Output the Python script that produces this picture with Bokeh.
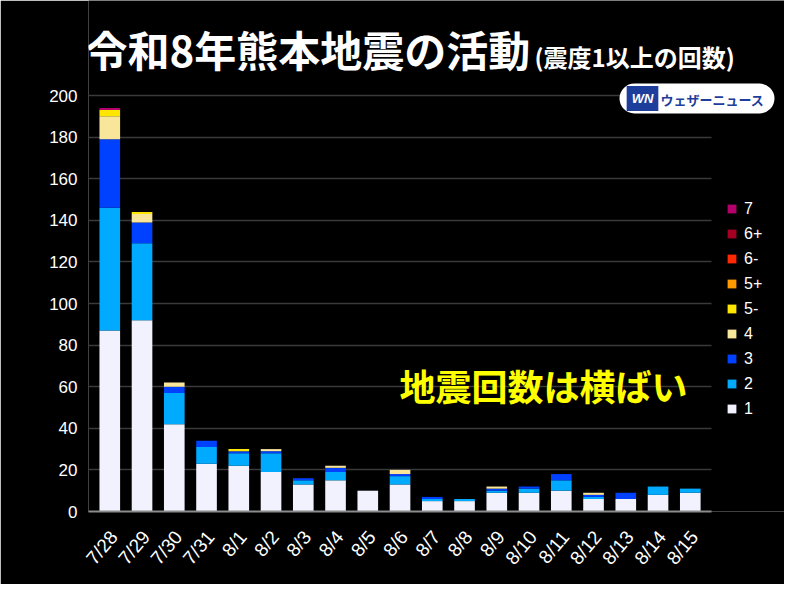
from bokeh.plotting import figure
from bokeh.models import (Range1d, Label, BoxAnnotation, Legend, LegendItem,
                          FixedTicker, ColumnDataSource)
from bokeh.embed import file_html
from bokeh.resources import INLINE

dates = ["7/28", "7/29", "7/30", "7/31", "8/1", "8/2", "8/3", "8/4", "8/5", "8/6",
         "8/7", "8/8", "8/9", "8/10", "8/11", "8/12", "8/13", "8/14", "8/15"]

levels = ["1", "2", "3", "4", "5-", "5+", "6-", "6+", "7"]
colors = ["#f2f2ff", "#00aaff", "#0041ff", "#fae69a", "#ffe600",
          "#ff9900", "#ff2800", "#a50021", "#b40068"]

int1  = [87, 92, 42, 23, 22, 19, 13, 15, 10, 13, 5, 5, 9, 9, 10, 6, 6, 8, 9]
int2  = [59, 37, 15, 8, 6, 9, 2, 4, 0, 4, 1, 1, 1, 2, 5, 1, 0, 4, 2]
int3  = [33, 10, 3, 3, 1, 1, 1, 2, 0, 1, 1, 0, 1, 1, 3, 1, 3, 0, 0]
int4  = [11, 4, 2, 0, 0, 1, 0, 1, 0, 2, 0, 0, 1, 0, 0, 1, 0, 0, 0]
int5m = [3, 1, 0, 0, 1, 0, 0, 0, 0, 0, 0, 0, 0, 0, 0, 0, 0, 0, 0]
int5p = [0] * 19
int6m = [0] * 19
int6p = [0] * 19
int7  = [1, 0, 0, 0, 0, 0, 0, 0, 0, 0, 0, 0, 0, 0, 0, 0, 0, 0, 0]

yticks = list(range(0, 201, 20))

title_main = "令和8年熊本地震の活動"
title_sub = "(震度1以上の回数)"
note = "地震回数は横ばい"
brand = "ウェザーニュース"

xpos = list(range(len(dates)))
keys = ["s1", "s2", "s3", "s4", "s5m", "s5p", "s6m", "s6p", "s7"]
source = ColumnDataSource(data=dict(x=xpos, s1=int1, s2=int2, s3=int3, s4=int4,
                                    s5m=int5m, s5p=int5p, s6m=int6m, s6p=int6p, s7=int7))

JP = "Noto Sans CJK JP"
LAT = "Liberation Sans"

#- frame covers the whole canvas right of the y axis so that title, logo and
#- legend are not clipped; grid and x axis are bounded to the bar area
W, H = 784, 584
left, bottom = 88, 73
xlo, xhi = -0.66, len(dates) - 1 + 0.66
p = figure(x_range=Range1d(xlo, xlo + (W - left) / 32.25),
           y_range=Range1d(0, (H - bottom) / 2.08),
           width=W, height=H, output_backend="svg",
           toolbar_location=None, tools="",
           min_border_left=left, min_border_right=0, min_border_top=0,
           min_border_bottom=bottom)
p.background_fill_color = "black"
p.border_fill_color = "black"
p.outline_line_color = None

bars = p.vbar_stack(keys, x="x", width=0.64, fill_color=colors, line_color=None, source=source)

#- axes
shift = 0.125
p.xaxis.ticker = FixedTicker(ticks=[i + shift for i in xpos])
p.xaxis.major_label_overrides = {i + shift: d for i, d in zip(xpos, dates)}
p.xaxis.bounds = (xlo, xhi)
p.xaxis.major_label_orientation = 0.87
p.xaxis.major_tick_line_color = None
p.xaxis.minor_tick_line_color = None
p.xaxis.axis_line_color = "#8c8c8c"
p.xaxis.axis_line_width = 2
p.xaxis.major_label_text_color = "white"
p.xaxis.major_label_text_font = LAT
p.xaxis.major_label_text_font_size = "19px"
p.xaxis.major_label_standoff = 16

p.yaxis.ticker = FixedTicker(ticks=yticks)
p.yaxis.axis_line_color = None
p.yaxis.major_tick_line_color = None
p.yaxis.minor_tick_line_color = None
p.yaxis.major_tick_out = 0
p.yaxis.major_label_text_color = "white"
p.yaxis.major_label_text_font = LAT
p.yaxis.major_label_text_font_size = "17px"
p.yaxis.major_label_standoff = 11

p.xgrid.grid_line_color = None
if "cross_bounds" in p.ygrid[0].properties():
    p.ygrid.ticker = FixedTicker(ticks=yticks)
    p.ygrid.cross_bounds = (xlo, xhi)
    p.ygrid.grid_line_color = "#3a3a3a"
    p.ygrid.grid_line_width = 1.5
else:
    p.ygrid.grid_line_color = None
    p.segment(x0=xlo, x1=xhi, y0=yticks, y1=yticks, line_color="#3a3a3a",
              line_width=1.5, level="underlay")

#- legend, top level first
items = [LegendItem(label=levels[i], renderers=[bars[i]]) for i in reversed(range(len(levels)))]
legend = Legend(items=items, location=(638, 92), orientation="vertical")
legend.background_fill_alpha = 0
legend.border_line_color = None
legend.label_text_color = "white"
legend.label_text_font = LAT
legend.label_text_font_size = "16px"
legend.glyph_width = 11
legend.glyph_height = 11
legend.label_standoff = 7
legend.spacing = 4
legend.label_height = 21
legend.padding = 0
legend.margin = 0
p.add_layout(legend)

#- titles and notes (screen units from the frame's bottom left)
p.add_layout(Label(x=-3, y=463, x_units="screen", y_units="screen", text=title_main,
                   text_font=JP, text_font_style="bold", text_font_size="42px",
                   text_color="white", text_baseline="middle"))
p.add_layout(Label(x=446, y=455, x_units="screen", y_units="screen", text=title_sub,
                   text_font=JP, text_font_style="bold", text_font_size="24px",
                   text_color="white", text_baseline="middle"))
p.add_layout(Label(x=311, y=127, x_units="screen", y_units="screen", text=note,
                   text_font=JP, text_font_style="bold", text_font_size="36px",
                   text_color="#ffff00", text_baseline="middle"))

#- logo
p.add_layout(BoxAnnotation(left=531, right=686, bottom=398, top=428,
                           left_units="screen", right_units="screen",
                           bottom_units="screen", top_units="screen",
                           fill_color="white", fill_alpha=1, line_color=None,
                           border_radius=15))
p.add_layout(Label(x=554, y=413, x_units="screen", y_units="screen", text="WN",
                   text_font=LAT, text_font_style="bold italic", text_font_size="13px",
                   text_color="white", text_align="center", text_baseline="middle",
                   background_fill_color="#1e3e9b", padding=5))
p.add_layout(Label(x=572, y=412, x_units="screen", y_units="screen", text=brand,
                   text_font=JP, text_font_style="bold", text_font_size="13px",
                   text_color="#1e3e9b", text_baseline="middle"))

open("out.html", "w").write(file_html(p, INLINE))
